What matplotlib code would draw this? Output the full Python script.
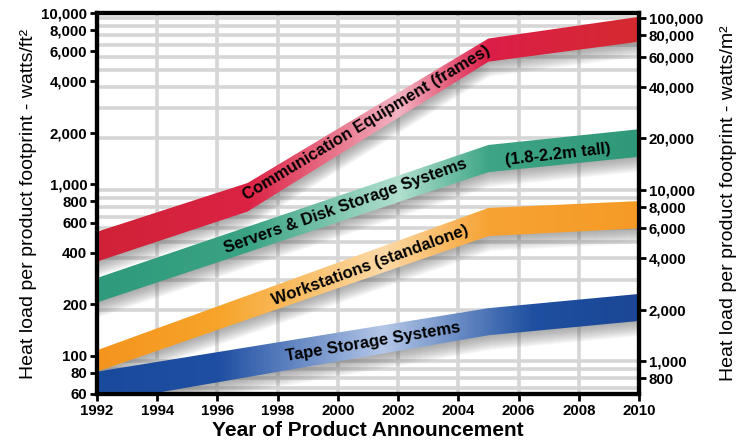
import numpy as np
import matplotlib
matplotlib.use('Agg')
import matplotlib.pyplot as plt
from matplotlib.patches import Polygon
from matplotlib.colors import LinearSegmentedColormap
from matplotlib.ticker import FixedLocator, FuncFormatter, NullLocator
import matplotlib.transforms as mtransforms

plt.rcParams['font.family'] = ['Liberation Sans', 'DejaVu Sans']

FT2_TO_M2 = 10.764

# band edges, watts/ft^2
comm_years = [1992, 1997, 2005, 2010]
comm_hi = [530, 1020, 7100, 9500]
comm_lo = [355, 695, 5200, 6800]

serv_years = [1992, 2005, 2010]
serv_hi = [285, 1700, 2100]
serv_lo = [205, 1180, 1450]

work_years = [1992, 2005, 2010]
work_hi = [108, 730, 800]
work_lo = [81, 500, 555]

tape_years = [1992, 2005, 2010]
tape_hi = [81, 190, 230]
tape_lo = [53, 132, 160]

year_ticks = list(range(1992, 2011, 2))
left_ticks = [60, 80, 100, 200, 400, 600, 800, 1000, 2000, 4000, 6000, 8000, 10000]
right_ticks = [800, 1000, 2000, 4000, 6000, 8000, 10000, 20000, 40000, 60000, 80000, 100000]
grid_m2 = [700, 800, 900] + [k * 1000 for k in range(1, 10)] + [k * 10000 for k in range(1, 11)]

fig = plt.figure(figsize=(7.47, 4.46), dpi=100)
ax = fig.add_axes([97 / 747, 1 - 394 / 446, 542 / 747, 381 / 446])
ax.set_yscale('log')


def hexrgb(c):
    return tuple(int(c[i:i + 2], 16) / 255 for i in (1, 3, 5))


def band(years, hi, lo, stops, zo):
    verts = list(zip(years, hi)) + list(zip(years[::-1], lo[::-1]))
    # soft drop shadow
    for k in range(1, 16):
        tr = mtransforms.offset_copy(ax.transData, fig=fig, x=1.5, y=-k, units='dots')
        ax.add_patch(Polygon(verts, closed=True, transform=tr, fc='0.4', ec='none',
                             alpha=0.045, zorder=zo - 0.5))
    poly = Polygon(verts, closed=True, fc='none', ec='none', zorder=zo)
    ax.add_patch(poly)
    cmap = LinearSegmentedColormap.from_list('b', [((s - 1992) / 18, hexrgb(c)) for s, c in stops])
    grad = np.linspace(0, 1, 600).reshape(1, -1)
    im = ax.imshow(grad, cmap=cmap, aspect='auto', extent=[1992, 2010, 40, 12000],
                   origin='lower', zorder=zo, interpolation='bilinear')
    im.set_clip_path(poly)


band(comm_years, comm_hi, comm_lo,
     [(1992, '#cf2238'), (1997, '#dc2244'), (2002, '#f2b3c1'), (2005, '#dc1e48'), (2010, '#d52a30')], 3)
band(serv_years, serv_hi, serv_lo,
     [(1992, '#2f9a7c'), (1997, '#3aa384'), (2002, '#b2e0cf'), (2005, '#3ea586'), (2010, '#2f9878')], 3)
band(work_years, work_hi, work_lo,
     [(1992, '#f4941f'), (1996, '#f7a42a'), (2001.5, '#fcd9a6'), (2005, '#f7a334'), (2010, '#f59a26')], 3)
band(tape_years, tape_hi, tape_lo,
     [(1992, '#1a4a9c'), (1996, '#1f4fa2'), (2001.5, '#b4c7e8'), (2006.5, '#1e4fa0'), (2010, '#1b4796')], 3)

# grid
for yr in year_ticks[1:-1]:
    ax.axvline(yr, color='#d6d6d6', lw=2.6, zorder=0)
for v in grid_m2:
    ax.axhline(v / FT2_TO_M2, color='#d6d6d6', lw=2.6, zorder=0)

ax.set_xlim(1992, 2010)
ax.set_ylim(60, 10000)

lab = dict(fontsize=12, fontweight='bold', ha='center', va='center', rotation_mode='anchor', zorder=5)
ax.text(2000.97, 2285, 'Communication Equipment (frames)', rotation=31, **lab)
ax.text(2000.24, 750, 'Servers & Disk Storage Systems', rotation=19.5, **lab)
ax.text(2007.3, 1486, '(1.8-2.2m tall)', rotation=6.5, **lab)
ax.text(2001.07, 339, 'Workstations (standalone)', rotation=20, **lab)
ax.text(2001.17, 121, 'Tape Storage Systems', rotation=9.5, **lab)

comma = FuncFormatter(lambda v, p: f'{int(round(v)):,}')
ax.xaxis.set_major_locator(FixedLocator(year_ticks))
ax.yaxis.set_major_locator(FixedLocator(left_ticks))
ax.yaxis.set_major_formatter(comma)
ax.yaxis.set_minor_locator(NullLocator())

ax2 = ax.twinx()
ax2.set_yscale('log')
ax2.set_ylim(60 * FT2_TO_M2, 10000 * FT2_TO_M2)
ax2.yaxis.set_major_locator(FixedLocator(right_ticks))
ax2.yaxis.set_major_formatter(comma)
ax2.yaxis.set_minor_locator(NullLocator())

for a in (ax, ax2):
    for s in a.spines.values():
        s.set_linewidth(3)
        s.set_color('black')
    a.tick_params(direction='out', length=5, width=2, labelsize=10.8, pad=2)
    for t in a.get_yticklabels() + a.get_xticklabels():
        t.set_fontweight('bold')

ax.set_xlabel('Year of Product Announcement', fontsize=15, fontweight='bold', labelpad=2)
ax.set_ylabel('Heat load per product footprint - watts/ft²', fontsize=14, labelpad=3)
ax2.set_ylabel('Heat load per product footprint - watts/m²', fontsize=14, rotation=90, labelpad=12)

fig.savefig('out.png', dpi=100)
